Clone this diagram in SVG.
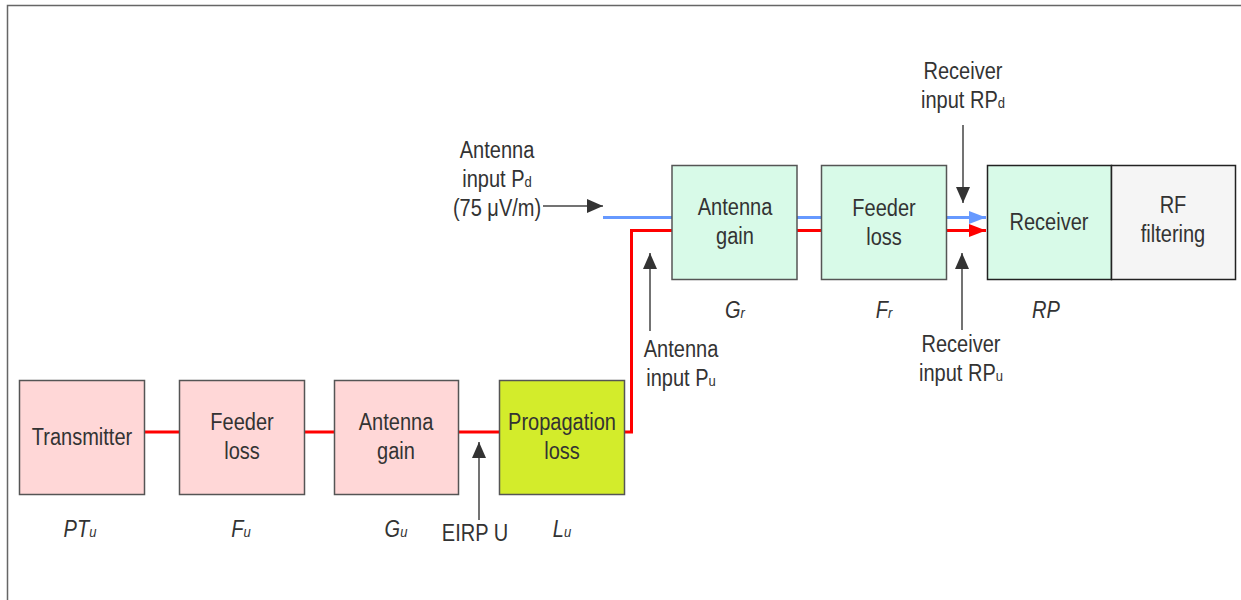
<svg xmlns="http://www.w3.org/2000/svg" width="1241" height="600" viewBox="0 0 1241 600">
<style>
  .t { font-family: "Liberation Sans", Arial, sans-serif; font-size: 23px; fill: #333; text-anchor: middle; }
  .it { font-style: italic; }
  .sub { font-size: 15px; }
  .pink { fill: #ffd7d7; stroke: #555; stroke-width: 1.5; }
  .mint { fill: #d8fae8; stroke: #555; stroke-width: 1.5; }
  .mintd { fill: #d8fae8; stroke: #222; stroke-width: 1.5; }
  .grey { fill: #f5f5f5; stroke: #222; stroke-width: 1.5; }
  .yel { fill: #d3ec2b; stroke: #555; stroke-width: 1.5; }
  .red { fill: none; stroke: #ff0000; stroke-width: 3; }
  .blue { fill: none; stroke: #6699ff; stroke-width: 3; }
  .ptr { fill: none; stroke: #444; stroke-width: 1.5; marker-end: url(#ah); }
</style>
<defs>
  <marker id="ah" markerUnits="userSpaceOnUse" markerWidth="17" markerHeight="14" refX="16" refY="7" orient="auto">
    <path d="M0,0 L16,7 L0,14 z" fill="#333"/>
  </marker>
  <marker id="ahr" markerUnits="userSpaceOnUse" markerWidth="18" markerHeight="13" refX="17" refY="6.5" orient="auto">
    <path d="M0,0 L17,6.5 L0,13 z" fill="#ff0000"/>
  </marker>
  <marker id="ahb" markerUnits="userSpaceOnUse" markerWidth="18" markerHeight="13" refX="17" refY="6.5" orient="auto">
    <path d="M0,0 L17,6.5 L0,13 z" fill="#6699ff"/>
  </marker>
</defs>
<rect x="7.5" y="5.5" width="1300" height="700" fill="#fff" stroke="#666" stroke-width="1.5"/>

<g id="connectors">
  <path class="red" d="M144,432 H179 M304,432 H334 M458,432 H499"/>
  <path class="red" d="M624,432 H631.5 V230.5 H672 M797,230.5 H821"/>
  <path class="red" d="M946,230.5 H986" marker-end="url(#ahr)"/>
  <path class="blue" d="M603,217.5 H672 M797,217.5 H821"/>
  <path class="blue" d="M946,217.5 H986" marker-end="url(#ahb)"/>
  <path class="ptr" d="M543,206 H603"/>
  <path class="ptr" d="M650,331 V253"/>
  <path class="ptr" d="M963,125 V203"/>
  <path class="ptr" d="M962,330 V253"/>
  <path class="ptr" d="M479,520 V442"/>
</g>

<g id="transmitter">
  <rect class="pink" x="19.5" y="380.5" width="125" height="114"/>
  <text class="t" transform="translate(82,445) scale(0.87,1)">Transmitter</text>
</g>
<g id="feeder-loss-tx">
  <rect class="pink" x="179.5" y="380.5" width="125" height="114"/>
  <text class="t" transform="translate(242,430) scale(0.87,1)"><tspan x="0">Feeder</tspan><tspan x="0" dy="29">loss</tspan></text>
</g>
<g id="antenna-gain-tx">
  <rect class="pink" x="334.5" y="380.5" width="124" height="114"/>
  <text class="t" transform="translate(396,430) scale(0.87,1)"><tspan x="0">Antenna</tspan><tspan x="0" dy="29">gain</tspan></text>
</g>
<g id="propagation-loss">
  <rect class="yel" x="499.5" y="380.5" width="125" height="114"/>
  <text class="t" transform="translate(562,430) scale(0.87,1)"><tspan x="0">Propagation</tspan><tspan x="0" dy="29">loss</tspan></text>
</g>
<g id="antenna-gain-rx">
  <rect class="mint" x="672" y="165.5" width="125" height="114"/>
  <text class="t" transform="translate(735,215) scale(0.87,1)"><tspan x="0">Antenna</tspan><tspan x="0" dy="29">gain</tspan></text>
</g>
<g id="feeder-loss-rx">
  <rect class="mint" x="821.5" y="165.5" width="125" height="114"/>
  <text class="t" transform="translate(884,216) scale(0.87,1)"><tspan x="0">Feeder</tspan><tspan x="0" dy="29">loss</tspan></text>
</g>
<g id="receiver">
  <rect class="mintd" x="987.5" y="165.5" width="124" height="114"/>
  <text class="t" transform="translate(1049,230) scale(0.87,1)">Receiver</text>
</g>
<g id="rf-filtering">
  <rect class="grey" x="1111.5" y="165.5" width="124" height="114"/>
  <text class="t" transform="translate(1173,213) scale(0.87,1)"><tspan x="0">RF</tspan><tspan x="0" dy="29">filtering</tspan></text>
</g>

<g id="labels">
  <text class="t" transform="translate(497,158) scale(0.87,1)"><tspan x="0">Antenna</tspan><tspan x="0" dy="29">input P<tspan class="sub">d</tspan></tspan><tspan x="0" dy="29">(75 μV/m)</tspan></text>
  <text class="t" transform="translate(681,357) scale(0.87,1)"><tspan x="0">Antenna</tspan><tspan x="0" dy="29">input P<tspan class="sub">u</tspan></tspan></text>
  <text class="t" transform="translate(963,79) scale(0.87,1)"><tspan x="0">Receiver</tspan><tspan x="0" dy="29">input RP<tspan class="sub">d</tspan></tspan></text>
  <text class="t" transform="translate(961,352) scale(0.87,1)"><tspan x="0">Receiver</tspan><tspan x="0" dy="29">input RP<tspan class="sub">u</tspan></tspan></text>
  <text class="t" transform="translate(475,541) scale(0.87,1)">EIRP U</text>
  <text class="t it" transform="translate(80,537) scale(0.87,1)">PT<tspan class="sub">u</tspan></text>
  <text class="t it" transform="translate(241,537) scale(0.87,1)">F<tspan class="sub">u</tspan></text>
  <text class="t it" transform="translate(396,537) scale(0.87,1)">G<tspan class="sub">u</tspan></text>
  <text class="t it" transform="translate(562,537) scale(0.87,1)">L<tspan class="sub">u</tspan></text>
  <text class="t it" transform="translate(735,318) scale(0.87,1)">G<tspan class="sub">r</tspan></text>
  <text class="t it" transform="translate(884,318) scale(0.87,1)">F<tspan class="sub">r</tspan></text>
  <text class="t it" transform="translate(1046,318) scale(0.87,1)">RP</text>
</g>
</svg>
